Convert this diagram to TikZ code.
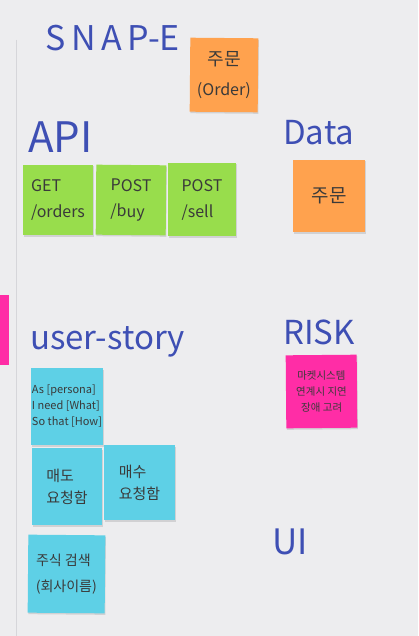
\documentclass[tikz,border=0pt]{standalone}
\usepackage{fontspec}
\setmainfont{Noto Sans CJK KR}
\usetikzlibrary{shadows}
\definecolor{board}{HTML}{EDEDEF}
\definecolor{edge}{HTML}{D6D6DA}
\definecolor{ink}{HTML}{3E4FB4}
\definecolor{pen}{HTML}{3A3A3A}
\definecolor{noteorange}{HTML}{FFA24E}
\definecolor{notegreen}{HTML}{98DD4C}
\definecolor{notecyan}{HTML}{5ED0E6}
\definecolor{notepink}{HTML}{FF2DA6}
\tikzset{
  heading/.style={text=ink, font=\fontsize{33}{35}\selectfont, inner sep=0pt, anchor=west},
  sticky/.style={minimum width=70pt, minimum height=70pt, inner sep=1pt, text=pen,
    align=left, font=\fontsize{15}{22}\selectfont,
    drop shadow={shadow xshift=0.6pt, shadow yshift=-1.5pt, opacity=0.25}},
  orangenote/.style={sticky, fill=noteorange, align=center},
  greennote/.style={sticky, fill=notegreen, font=\fontsize{16}{26}\selectfont},
  cyannote/.style={sticky, fill=notecyan},
  pinknote/.style={sticky, fill=notepink, align=center}
}
\begin{document}
\begin{tikzpicture}[x=1pt, y=-1pt]
  % board
  \fill[board] (0,0) rectangle (418,636);
  \useasboundingbox (0,0) rectangle (418,636);
  \draw[edge, line width=1pt] (16,40) -- (16,636);
  % partly visible note at the left edge
  \fill[notepink] (0,295) rectangle (9,365);

  % section headings
  \node[heading, font=\fontsize{34}{36}\selectfont] (snap) at (45,38) {S\,N\,A\,P-E};
  \node[heading, font=\fontsize{42}{44}\selectfont] (api) at (28,137) {API};
  \node[heading] (data) at (283,133) {Data};
  \node[heading] (story) at (30,342) {user-story};
  \node[heading] (risk) at (283,332) {RISK};
  \node[heading, font=\fontsize{35}{37}\selectfont] (ui) at (272,542) {UI};

  % event storming notes
  \node[orangenote, minimum width=68pt, minimum height=74pt, rotate=-0.5,
        font=\fontsize{16}{30}\selectfont] (order) at (224,75) {{\fontsize{18}{30}\selectfont 주문}\\(Order)};
  \node[greennote] (get) at (58,200) {GET\\/orders};
  \node[greennote, rotate=-0.5] (buy) at (131,200) {POST\\/buy\hspace{14pt}};
  \node[greennote, minimum width=68pt, minimum height=73pt] (sell) at (202,199.5) {POST\\/sell};
  \node[orangenote, minimum width=72pt, minimum height=72pt, font=\fontsize{19}{22}\selectfont] (datanote) at (329,196) {주문};
  \node[pinknote, minimum width=71pt, minimum height=73pt, font=\fontsize{10.5}{16}\selectfont, rotate=0.5] (risknote) at (321.5,391.5) {마켓시스템\\연계시 지연\\장애 고려};
  \node[cyannote, minimum width=70pt, minimum height=77pt, font=\fontsize{11}{16}\selectfont] (persona) at (67,406.5) {As [persona]\\I need [What]\\So that [How]};
  \node[cyannote, minimum width=70pt, minimum height=77pt] (sell2) at (67,486.5) {매도\\요청함};
  \node[cyannote, minimum width=71pt, minimum height=75pt] (buy2) at (139.5,482.5) {매수\\요청함};
  \node[cyannote, minimum width=77pt, minimum height=78pt, rotate=-0.5, font=\fontsize{14}{26}\selectfont] (search) at (66.5,574) {주식 검색\\(회사이름)};
\end{tikzpicture}
\end{document}
